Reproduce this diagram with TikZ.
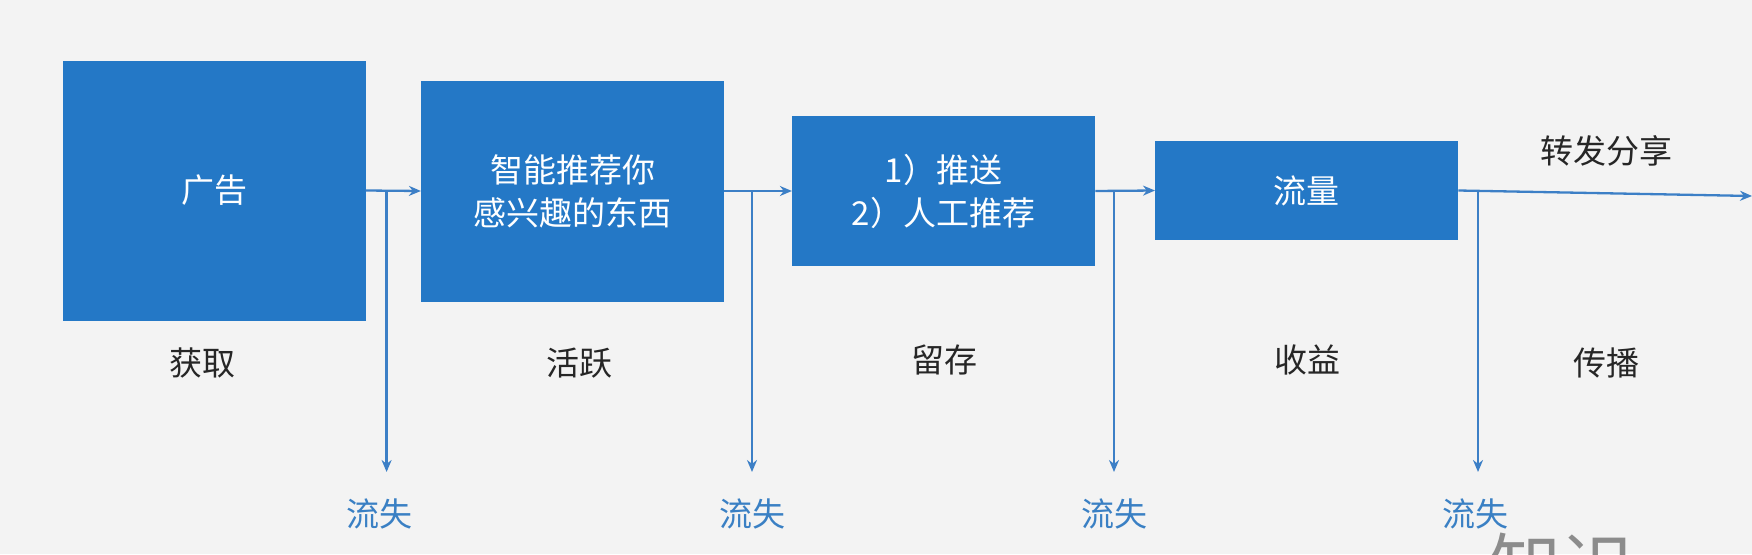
\documentclass[tikz,border=0pt]{standalone}
\usepackage{fontspec}
\setmainfont{Noto Sans CJK SC}
\usetikzlibrary{arrows.meta}
\definecolor{bg}{HTML}{F3F3F3}
\definecolor{boxblue}{HTML}{2478C6}
\definecolor{lineblue}{HTML}{3C7FC6}
\definecolor{lossblue}{HTML}{3A80C4}
\definecolor{wm}{HTML}{8C8C8C}
\tikzset{
  stage/.style={draw=none, fill=boxblue, text=white, inner sep=0pt, font=\fontsize{33}{43}\selectfont, align=center, minimum width=303pt},
  lbl/.style={inner sep=0pt, text=black!85, font=\fontsize{33}{40}\selectfont},
  loss/.style={inner sep=0pt, text=lossblue, font=\fontsize{33}{40}\selectfont},
  arr/.style={draw=lineblue, line width=2.3pt, -{Stealth[length=12pt,width=10pt]}},
}
\begin{document}
\begin{tikzpicture}[x=1pt,y=-1pt]
\useasboundingbox (0,0) rectangle (1752,554);
\fill[bg] (0,0) rectangle (1752,554);
% boxes
\node[stage, minimum height=260pt] (b1) at (214,190.5) {广告};
\node[stage, minimum height=221pt] (b2) at (572.6,191) {智能推荐你\\感兴趣的东西};
\node[stage, minimum height=150pt] (b3) at (943.6,191) {1）推送\\2）人工推荐};
\node[stage, minimum height=99pt] (b4) at (1306.7,190.5) {流量};
% stage labels
\node[lbl] (t1) at (202,363) {获取};
\node[lbl] (t2) at (579,363) {活跃};
\node[lbl] (t3) at (944,360) {留存};
\node[lbl] (t4) at (1307,360) {收益};
\node[lbl] (t5) at (1606,363) {传播};
\node[lbl] (t6) at (1606,151) {转发分享};
% loss labels
\node[loss] (l1) at (379,514) {流失};
\node[loss] (l2) at (752,514) {流失};
\node[loss] (l3) at (1114,514) {流失};
\node[loss] (l4) at (1475,514) {流失};
% junctions
\coordinate (j1) at (386.6,191);
\coordinate (j2) at (752,191);
\coordinate (j3) at (1114,191);
\coordinate (j4) at (1478,191);
\coordinate (d1) at (386.6,472);
\coordinate (d2) at (752,472);
\coordinate (d3) at (1114,472);
\coordinate (d4) at (1478,472);
\coordinate (e) at (1752,196);
% connectors
\draw[arr] (b1.east) -- (b2.west);
\draw[arr] (b2.east) -- (b3.west);
\draw[arr] (b3.east) -- (b4.west);
\draw[arr] (b4.east) -- (e);
\draw[arr] (j1) -- (d1);
\draw[arr] (j2) -- (d2);
\draw[arr] (j3) -- (d3);
\draw[arr] (j4) -- (d4);
% watermark (cut off at the bottom edge, as in the reference)
\begin{scope}
\clip (0,0) rectangle (1752,554);
\node[inner sep=0pt, text=wm, font=\fontsize{72}{72}\selectfont] (w) at (1561,566) {知识};
\end{scope}
\end{tikzpicture}
\end{document}
